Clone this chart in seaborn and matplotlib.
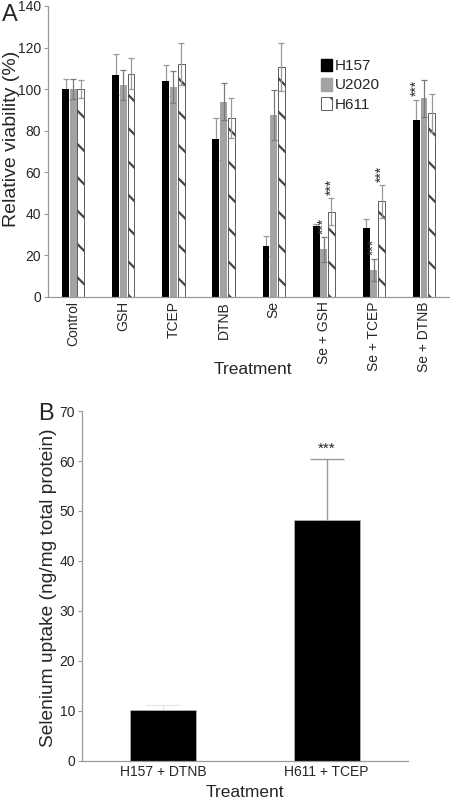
import numpy as np
import pandas as pd
import seaborn as sns
import matplotlib.pyplot as plt
from matplotlib.patches import Patch

# =========================
# Data
# =========================
treatments = ["Control", "GSH", "TCEP", "DTNB", "Se", "Se + GSH", "Se + TCEP", "Se + DTNB"]
cell_lines = ["H157", "U2020", "H611"]

h157 = [100, 107, 104, 76, 24.5, 34, 33, 85]
h157_err = [5, 10, 7.5, 10, 5, 1.3, 4.5, 10]
u2020 = [100, 102, 101, 94, 87.5, 23, 13, 95.5]
u2020_err = [4.7, 7, 7.5, 9, 12, 6, 5.5, 9]
h611 = [100, 107.5, 112, 86, 110.5, 41, 46, 88.5]
h611_err = [4.5, 7.5, 10, 9.5, 11.5, 6.5, 8, 9]

stars_a = [("Se + GSH", "U2020"), ("Se + GSH", "H611"),
           ("Se + TCEP", "U2020"), ("Se + TCEP", "H611"),
           ("Se + DTNB", "H157")]

uptake_groups = ["H157 + DTNB", "H611 + TCEP"]
uptake = [10.1, 48.2]
uptake_err = [1.0, 12.3]
stars_b = ["H611 + TCEP"]

# =========================
# Style
# =========================
sns.set_style("white")
plt.rcParams["font.family"] = ["Liberation Sans", "DejaVu Sans"]
plt.rcParams["hatch.linewidth"] = 1.6
plt.rcParams["hatch.color"] = "black"

axis_grey = "#9a9a9a"
err_grey = "#999999"
colors = {"H157": "black", "U2020": "#a3a3a3", "H611": "white"}

fig = plt.figure(figsize=(4.5, 7.99), dpi=100)

# =========================
# Panel A
# =========================
df_a = pd.DataFrame({
    "treatment": treatments * 3,
    "line": np.repeat(cell_lines, len(treatments)),
    "viability": h157 + u2020 + h611,
    "err": h157_err + u2020_err + h611_err,
})

ax_a = fig.add_axes([0.107, 0.6283, 0.891, 0.3642])
sns.barplot(
    data=df_a, x="treatment", y="viability", hue="line",
    order=treatments, hue_order=cell_lines,
    palette=[colors[c] for c in cell_lines], saturation=1,
    width=0.46, gap=0.1, errorbar=None, legend=False, ax=ax_a,
)

for line, container in zip(cell_lines, ax_a.containers):
    sub = df_a[df_a["line"] == line].set_index("treatment")
    for bar in container:
        xc = bar.get_x() + bar.get_width() / 2
        tr = treatments[int(round(xc))]
        val, err = sub.loc[tr, "viability"], sub.loc[tr, "err"]
        if line == "H611":
            bar.set_facecolor("white")
            bar.set_edgecolor("#444444")
            bar.set_linewidth(0.6)
            bar.set_hatch("\\")
        else:
            bar.set_edgecolor(colors[line])
            bar.set_linewidth(0)
        ecol = "#7a7a7a" if line == "U2020" else err_grey
        # black bars hide the lower half of their error bar
        ez = 0.5 if line == "H157" else 3
        ax_a.errorbar(xc, val, yerr=err, fmt="none", ecolor=ecol,
                      elinewidth=0.9, capsize=2.3, capthick=0.9, zorder=ez)
        if (tr, line) in stars_a:
            ax_a.text(xc, val + err + 1.5, "***", rotation=90,
                      ha="center", va="bottom", fontsize=10, zorder=5)

ax_a.set_ylim(0, 140)
ax_a.set_xlim(-0.5, len(treatments) - 0.5)
ax_a.set_yticks(range(0, 141, 20))
ax_a.tick_params(axis="y", labelsize=10, length=3, color=axis_grey, pad=2, left=True)
ax_a.tick_params(axis="x", labelsize=10, length=0, pad=3, labelrotation=90)
ax_a.set_xlabel("Treatment", fontsize=12.5, va="top")
ax_a.xaxis.set_label_coords(0.511, -0.224)
ax_a.set_ylabel("Relative viability (%)", fontsize=14)
ax_a.yaxis.set_label_coords(-0.071, 0.545)
for s in ["top", "right"]:
    ax_a.spines[s].set_visible(False)
for s in ["left", "bottom"]:
    ax_a.spines[s].set_color(axis_grey)
    ax_a.spines[s].set_linewidth(0.9)

handles = [
    Patch(facecolor="black", edgecolor="black", label="H157"),
    Patch(facecolor="#a3a3a3", edgecolor="#a3a3a3", label="U2020"),
    Patch(facecolor="white", edgecolor="#444444", hatch="\\", linewidth=0.6, label="H611"),
]
ax_a.legend(handles=handles, loc="upper left", bbox_to_anchor=(0.665, 0.84),
            frameon=False, fontsize=11, handlelength=0.75, handleheight=0.9,
            handletextpad=0.15, labelspacing=0.3, borderaxespad=0)

fig.text(0.004, 0.981, "A", fontsize=17, ha="left", va="center")

# =========================
# Panel B
# =========================
df_b = pd.DataFrame({"group": uptake_groups, "uptake": uptake, "err": uptake_err})

ax_b = fig.add_axes([0.182, 0.0476, 0.725, 0.438])
sns.barplot(data=df_b, x="group", y="uptake", order=uptake_groups,
            color="black", saturation=1, width=0.405, errorbar=None, ax=ax_b)

for bar in ax_b.patches:
    xc = bar.get_x() + bar.get_width() / 2
    g = uptake_groups[int(round(xc))]
    row = df_b.set_index("group").loc[g]
    bar.set_edgecolor("#bbbbbb")
    bar.set_linewidth(0.5)
    ecol = "#e6e6e6" if row["err"] < 2 else err_grey
    ax_b.errorbar(xc, row["uptake"], yerr=row["err"], fmt="none", ecolor=ecol,
                  elinewidth=1.0, capsize=12, capthick=1.0, zorder=0.5)
    if g in stars_b:
        ax_b.text(xc, row["uptake"] + row["err"] + 0.6, "***",
                  ha="center", va="bottom", fontsize=11)

ax_b.set_ylim(0, 70)
ax_b.set_xlim(-0.5, len(uptake_groups) - 0.5)
ax_b.set_yticks(range(0, 71, 10))
ax_b.tick_params(axis="y", labelsize=10, length=3, color=axis_grey, pad=2, left=True)
ax_b.tick_params(axis="x", labelsize=10, length=0, pad=3)
ax_b.set_xlabel("Treatment", fontsize=12.5, va="top")
ax_b.xaxis.set_label_coords(0.5, -0.069)
ax_b.set_ylabel("Selenium uptake (ng/mg total protein)", fontsize=13.8)
ax_b.yaxis.set_label_coords(-0.077, 0.494)
for s in ["top", "right"]:
    ax_b.spines[s].set_visible(False)
for s in ["left", "bottom"]:
    ax_b.spines[s].set_color(axis_grey)
    ax_b.spines[s].set_linewidth(0.9)

fig.text(0.085, 0.482, "B", fontsize=17, ha="left", va="center")

fig.savefig("out.png", dpi=100)
